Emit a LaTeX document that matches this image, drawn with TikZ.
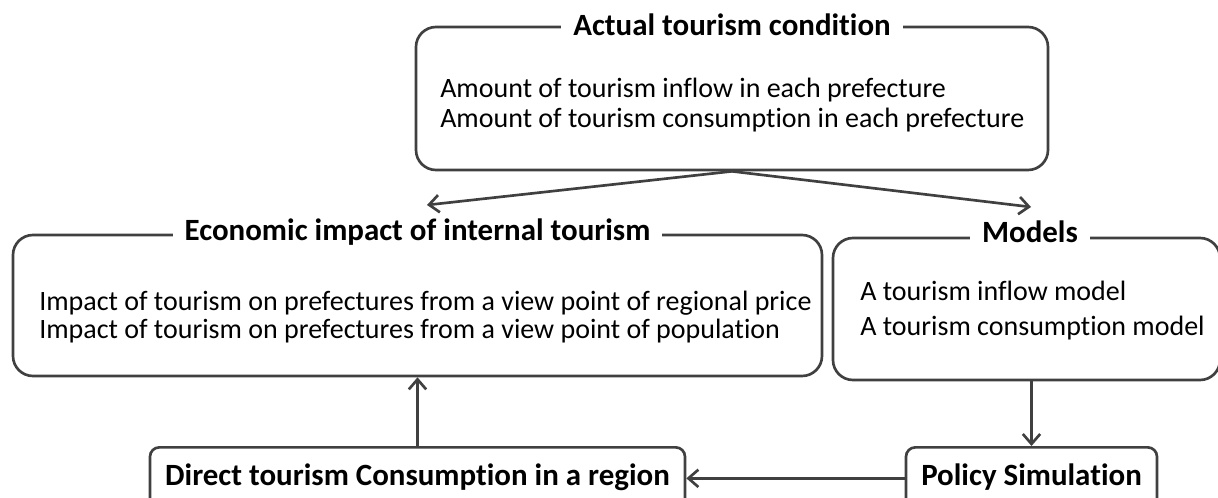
\documentclass[tikz,border=0pt]{standalone}
\usepackage{fontspec}
\setmainfont{Carlito}[Ligatures=NoCommon]
\usetikzlibrary{arrows.meta}
\definecolor{edgegray}{HTML}{404040}
\begin{document}
\begin{tikzpicture}[x=0.75pt,y=-0.75pt,
  panel/.style={draw=edgegray,line width=2pt,rounded corners=15pt,inner sep=0pt},
  smallbox/.style={draw=edgegray,line width=2pt,rounded corners=7pt,inner sep=0pt,
    font=\fontsize{23.2pt}{28pt}\selectfont\bfseries,text height=15pt,text depth=5pt},
  paneltitle/.style={fill=white,inner xsep=9pt,inner ysep=2pt,anchor=base,
    font=\fontsize{23.2pt}{28pt}\selectfont\bfseries},
  bodyline/.style={anchor=base west,inner sep=0pt,font=\fontsize{21pt}{25pt}\selectfont},
  link/.style={draw=edgegray,line width=2pt,-{Straight Barb[length=7.5pt,width=13pt,line width=2pt]}}]
\useasboundingbox (0,0) rectangle (1218,497);
\clip (0,0) rectangle (1218,497);

% panels
\node[panel,minimum width=474pt,minimum height=107.25pt] (top) at (732,98.5) {};
\node[panel,minimum width=606.75pt,minimum height=105.75pt] (econ) at (417.5,305.5) {};
\node[panel,minimum width=290.25pt,minimum height=106.5pt] (models) at (1026.5,309) {};

% panel titles
\node[paneltitle] (toptitle) at (732,35) {Actual tourism condition};
\node[paneltitle] (econtitle) at (417.5,240) {Economic impact of internal tourism};
\node[paneltitle] (modeltitle) at (1030,242) {Models};

% panel contents
\node[bodyline] (t1) at (440,97) {Amount of tourism inflow in each prefecture};
\node[bodyline] (t2) at (440,127) {Amount of tourism consumption in each prefecture};
\node[bodyline] (e1) at (39,310) {Impact of tourism on prefectures from a view point of regional price};
\node[bodyline] (e2) at (39,338) {Impact of tourism on prefectures from a view point of population};
\node[bodyline] (m1) at (860,300) {A tourism inflow model};
\node[bodyline] (m2) at (860,335) {A tourism consumption model};

% bottom boxes
\node[smallbox,minimum width=401.25pt,minimum height=46.5pt,anchor=north] (direct) at (417.5,446) {Direct tourism Consumption in a region};
\node[smallbox,minimum width=188.25pt,minimum height=46.5pt,anchor=north] (policy) at (1031.5,446) {Policy Simulation};

% connectors
\coordinate (eL) at (427,205);
\coordinate (eR) at (1031,207);
\draw[link] (top.south) -- (eL);
\draw[link] (top.south) -- (eR);
\draw[link] (policy.north |- models.south) -- (policy.north);
\draw[link] (policy.west) -- (direct.east);
\draw[link] (direct.north) -- (econ.south);
\end{tikzpicture}
\end{document}
